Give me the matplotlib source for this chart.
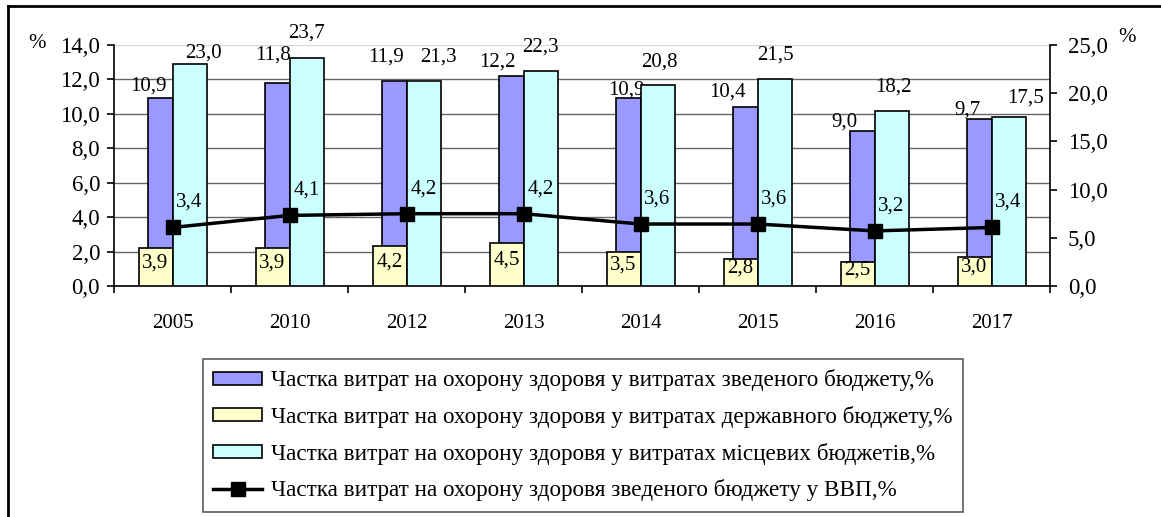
import matplotlib
matplotlib.use("Agg")
import matplotlib.pyplot as plt
from matplotlib.patches import Patch
from matplotlib.lines import Line2D
from matplotlib.ticker import FuncFormatter
import numpy as np

# data
years = ["2005", "2010", "2012", "2013", "2014", "2015", "2016", "2017"]
consolidated = [10.9, 11.8, 11.9, 12.2, 10.9, 10.4, 9.0, 9.7]   # left axis
state = [3.9, 3.9, 4.2, 4.5, 3.5, 2.8, 2.5, 3.0]                # right axis
local = [23.0, 23.7, 21.3, 22.3, 20.8, 21.5, 18.2, 17.5]         # right axis
gdp = [3.4, 4.1, 4.2, 4.2, 3.6, 3.6, 3.2, 3.4]                   # left axis

names = [
    "Частка витрат на охорону здоровя у витратах зведеного бюджету,%",
    "Частка витрат на охорону здоровя у витратах державного бюджету,%",
    "Частка витрат на охорону здоровя у витратах місцевих бюджетів,%",
    "Частка витрат на охорону здоровя зведеного бюджету у ВВП,%",
]

# label nudges in pixels (as placed in the original)
purple_dx = [-24, -16, -20, -26, -14, -30, -30, -24]
purple_dy = [12, 28, 24, 14, 8, 15, 9, 9]
cyan_dx = [31, 17, 32, 17, 19, 18, 19, 34]
cyan_dy = [11, 24, 24, 24, 23, 24, 24, 19]

purple = "#9999FF"
yellow = "#FFFFCC"
cyan = "#CCFFFF"

plt.rcParams["font.family"] = ["Liberation Serif", "DejaVu Serif"]


def comma(v, pos=None):
    return f"{v:.1f}".replace(".", ",")


W, H = 1161, 517
fig = plt.figure(figsize=(W / 100, H / 100), dpi=100)
ax = fig.add_axes([114 / W, 1 - 286 / H, (1050 - 114) / W, (286 - 45) / H])
ax2 = ax.twinx()

x = np.arange(len(years))
ax.set_xlim(-0.5, len(years) - 0.5)
ax.set_ylim(0, 14)
ax2.set_ylim(0, 25)

ax.set_yticks(np.arange(0, 15, 2))
ax2.set_yticks(np.arange(0, 26, 5))
ax.yaxis.set_major_formatter(FuncFormatter(comma))
ax2.yaxis.set_major_formatter(FuncFormatter(comma))

ax.set_axisbelow(True)
ax.yaxis.grid(True, color="#666666", lw=1)
ax.yaxis.get_gridlines()[-1].set_visible(False)

bw1 = 25 / 117
bw2 = 34 / 117
ax.bar(x, consolidated, width=-bw1, align="edge", color=purple,
       edgecolor="black", lw=1.2, zorder=2)
ax2.bar(x, state, width=-bw2, align="edge", color=yellow,
        edgecolor="black", lw=1.2, zorder=2)
ax2.bar(x, local, width=bw2, align="edge", color=cyan,
        edgecolor="black", lw=1.2, zorder=2)
# line belongs to the left scale but must sit above the right-axis bars
ax2.plot(x, gdp, transform=ax.transData, color="black", lw=2.5,
         marker="s", markersize=10.5, zorder=5, clip_on=False)

fs = 15
for i in range(len(years)):
    ax.annotate(comma(consolidated[i]), (x[i], consolidated[i]),
                xytext=(purple_dx[i], purple_dy[i]), textcoords="offset pixels",
                ha="center", va="center", fontsize=fs)
    ax2.annotate(comma(local[i]), (x[i], local[i]),
                 xytext=(cyan_dx[i], cyan_dy[i]), textcoords="offset pixels",
                 ha="center", va="center", fontsize=fs)
    ax2.annotate(comma(state[i]), (x[i] - bw2 / 2, state[i] / 2),
                 xytext=(0, 4), textcoords="offset pixels",
                 ha="center", va="center", fontsize=fs, zorder=6)
    ax2.annotate(comma(gdp[i]), (x[i], gdp[i]), xycoords=ax.transData,
                 xytext=(17, 25), textcoords="offset pixels",
                 ha="center", va="center", fontsize=fs, zorder=6)

# axes look
for s in ["top", "right"]:
    ax.spines[s].set_visible(False)
for s in ["top", "left", "bottom"]:
    ax2.spines[s].set_visible(False)
ax2.spines["right"].set_linewidth(1.2)
ax.spines["left"].set_linewidth(1.2)
ax.spines["bottom"].set_linewidth(1.2)
ax.axhline(14, color="#d9d9d9", lw=1, zorder=0)

ax.set_xticks(x)
ax.set_xticklabels(years)
ax.set_xticks(np.arange(-0.5, len(years), 1), minor=True)
ax.tick_params(axis="x", which="major", length=0, pad=20, labelsize=fs)
ax.tick_params(axis="x", which="minor", length=5, width=1.2, direction="out")
ax.tick_params(axis="y", length=5, width=1.2, direction="out", pad=5, labelsize=16.5)
ax2.tick_params(axis="y", length=5, width=1.2, direction="out", pad=8, labelsize=16.5)

fig.text(37 / W, 1 - 43 / H, "%", ha="center", va="center", fontsize=fs)
fig.text(1127 / W, 1 - 37 / H, "%", ha="center", va="center", fontsize=fs)

# outer frame (only top and left are inside the picture)
fig.add_artist(Line2D([8 / W, 1], [1 - 6 / H, 1 - 6 / H], transform=fig.transFigure,
                      color="black", lw=2))
fig.add_artist(Line2D([8 / W, 8 / W], [1 - 6 / H, 0], transform=fig.transFigure,
                      color="black", lw=2))

handles = [
    Patch(facecolor=purple, edgecolor="black", lw=1.2),
    Patch(facecolor=yellow, edgecolor="black", lw=1.2),
    Patch(facecolor=cyan, edgecolor="black", lw=1.2),
    Line2D([], [], color="black", lw=2.5, marker="s", markersize=10),
]
leg = fig.legend(handles, names, loc="upper left", bbox_to_anchor=(203 / W, 1 - 359 / H),
                 borderaxespad=0, fancybox=False, edgecolor="#333333", fontsize=16.7,
                 handlelength=2.1, handleheight=0.5, handletextpad=0.4,
                 labelspacing=0.63, borderpad=0.45)
leg.get_frame().set_linewidth(1.2)

fig.savefig("out.png", dpi=100)
